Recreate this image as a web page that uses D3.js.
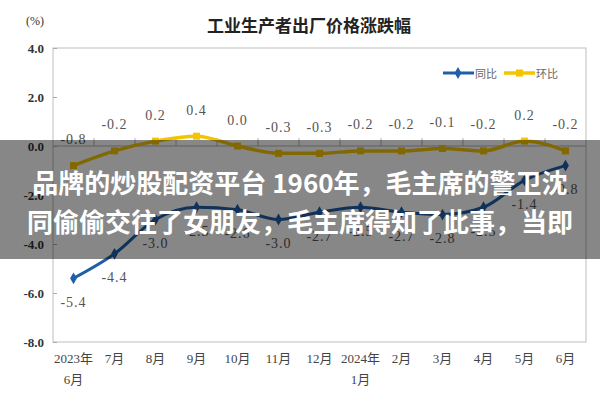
<!DOCTYPE html>
<html><head><meta charset="utf-8">
<script src="https://cdn.jsdelivr.net/npm/d3@7/dist/d3.min.js"></script>
<style>html,body{margin:0;padding:0;background:#fff;}svg{display:block;}</style>
</head><body>
<svg id="c" width="600" height="400"></svg>
<script>
const categories = ["2023年|6月","7月","8月","9月","10月","11月","12月","2024年|1月","2月","3月","4月","5月","6月"];
const yoy = [-5.4,-4.4,-3.0,-2.5,-2.6,-3.0,-2.7,-2.5,-2.7,-2.8,-2.5,-1.4,-0.8];   // 同比
const mom = [-0.8,-0.2,0.2,0.4,0.0,-0.3,-0.3,-0.2,-0.2,-0.1,-0.2,0.2,-0.2];      // 环比
const yTicks = [4,2,0,-2,-4,-6,-8];
const seriesNames = ["同比","环比"];
const title = "工业生产者出厂价格涨跌幅";
const unit = "(%)";
const overlayLines = ["品牌的炒股配资平台 1960年，毛主席的警卫沈","同偷偷交往了女朋友，毛主席得知了此事，当即"];

const svg = d3.select("#c");
const L = 53, R = 586, T = 48, B = 342;
const serif = "'Liberation Serif','Times New Roman','Noto Sans CJK SC',serif";
const cjk = "'Noto Sans CJK SC',sans-serif";
const blue = "#1f5ea8", yellow = "#f5c400";

const x = d3.scaleBand().domain(categories).range([L, R]);
const cx = d => x(d) + x.bandwidth()/2;
const y = d3.scaleLinear().domain([-8, 4]).range([B, T]);
const fmt = v => d3.format(".1f")(v).replace("−","-");

// title
svg.append("text").attr("x", 309).attr("y", 24).attr("text-anchor","middle")
  .attr("dominant-baseline","central").attr("font-family", cjk).attr("font-weight","bold")
  .attr("font-size", 17).attr("fill","#222").text(title);
svg.append("text").attr("x", 35).attr("y", 21).attr("text-anchor","middle")
  .attr("dominant-baseline","central").attr("font-family", serif)
  .attr("font-size", 12).attr("fill","#333").text(unit);

// plot border
svg.append("rect").attr("x", L).attr("y", T).attr("width", R-L).attr("height", B-T)
  .attr("fill","none").attr("stroke","#c8c8c8").attr("stroke-width",1.2);

// y axis
const yAxis = d3.axisLeft(y).tickValues(yTicks).tickSize(-4).tickPadding(9).tickFormat(d3.format(".1f"));
const gy = svg.append("g").attr("transform",`translate(${L},0)`).call(yAxis);
gy.select(".domain").remove();
gy.selectAll(".tick line").attr("stroke","#aaa");
gy.selectAll(".tick text").attr("font-family", serif).attr("font-weight","bold")
  .attr("font-size", 13).attr("fill","#333").text(d => fmt(d));

// zero axis with ticks between categories
svg.append("line").attr("x1", L).attr("x2", R).attr("y1", y(0)).attr("y2", y(0))
  .attr("stroke","#b5b5b5").attr("stroke-width",1);
svg.append("g").selectAll("line").data(categories.slice(1)).join("line")
  .attr("x1", d => x(d)).attr("x2", d => x(d)).attr("y1", y(0)).attr("y2", y(0)-8)
  .attr("stroke","#b5b5b5").attr("stroke-width",1);

// x labels
const xl = svg.append("g").selectAll("text").data(categories).join("text")
  .attr("x", d => cx(d)).attr("y", 358).attr("text-anchor","middle")
  .attr("font-family", serif).attr("font-size", 13).attr("fill","#444");
xl.each(function(d){
  const parts = d.split("|");
  const t = d3.select(this);
  parts.forEach((p,i) => t.append("tspan").attr("x", cx(d)).attr("dy", i===0 ? "0.35em" : 21).text(p));
});

// lines
const line = vals => d3.line().x((d,i) => cx(categories[i])).y(d => y(d)).curve(d3.curveMonotoneX)(vals);
svg.append("path").attr("d", line(mom)).attr("fill","none").attr("stroke", yellow).attr("stroke-width",3.5);
svg.append("path").attr("d", line(yoy)).attr("fill","none").attr("stroke", blue).attr("stroke-width",3);

// markers
svg.append("g").selectAll("rect").data(mom).join("rect")
  .attr("x",(d,i)=>cx(categories[i])-3.5).attr("y",d=>y(d)-3.5).attr("width",7).attr("height",7)
  .attr("fill", yellow);
const diamond = d3.symbol().type(d3.symbolDiamond).size(40);
svg.append("g").selectAll("path").data(yoy).join("path")
  .attr("d", diamond).attr("transform",(d,i)=>`translate(${cx(categories[i])},${y(d)})`)
  .attr("fill", blue);

// data labels
svg.append("g").selectAll("text").data(mom).join("text")
  .attr("x",(d,i)=>cx(categories[i])).attr("y",d=>y(d)-26).attr("text-anchor","middle")
  .attr("dominant-baseline","central").attr("font-family", serif).attr("font-size", 14)
  .attr("letter-spacing", 1).attr("fill","#555").text(d => fmt(d));
svg.append("g").selectAll("text").data(yoy).join("text")
  .attr("x",(d,i)=>cx(categories[i])).attr("y",d=>y(d)+24).attr("text-anchor","middle")
  .attr("dominant-baseline","central").attr("font-family", serif).attr("font-size", 14)
  .attr("letter-spacing", 1).attr("fill","#555").text(d => fmt(d));

// legend
const lg = svg.append("g");
[[443, blue], [504, yellow]].forEach(([lx, col], i) => {
  lg.append("line").attr("x1", lx).attr("x2", lx+31).attr("y1", 73).attr("y2", 73)
    .attr("stroke", col).attr("stroke-width", i===0 ? 3 : 3.5);
  if (i===0) lg.append("path").attr("d", diamond).attr("transform",`translate(${lx+15},73)`).attr("fill", col);
  else lg.append("rect").attr("x", lx+12).attr("y", 69.5).attr("width",7).attr("height",7).attr("fill", col);
  lg.append("text").attr("x", lx+32).attr("y", 73).attr("dominant-baseline","central")
    .attr("font-family", cjk).attr("font-size", 11).attr("fill","#666").text(seriesNames[i]);
});

// overlay band
svg.append("rect").attr("x",0).attr("y",140).attr("width",600).attr("height",119)
  .attr("fill","rgba(0,0,0,0.47)");
svg.append("g").selectAll("text").data(overlayLines).join("text")
  .attr("x", 300).attr("y",(d,i)=>181 + i*39).attr("text-anchor","middle")
  .attr("dominant-baseline","central").attr("font-family", cjk).attr("font-weight","bold")
  .attr("font-size", 26).attr("fill","#fff").text(d => d);
</script>
</body></html>
